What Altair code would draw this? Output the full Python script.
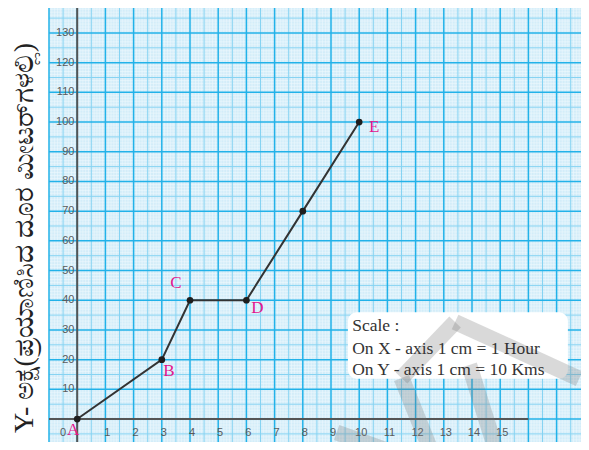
import altair as alt
import numpy as np
import pandas as pd

# ---- data ----
hours = [0, 3, 4, 6, 8, 10]
kms = [0, 20, 40, 40, 70, 100]
label_names = ["A", "B", "C", "D", "E"]
label_x = [0, 3, 4, 6, 10]
label_y = [0, 20, 40, 40, 100]
label_dx = [-4, 7, -14, 11, 15]
label_dy = [11, 11, -17, 8, 5]

x_ticks = list(range(0, 16))
y_ticks = list(range(0, 140, 10))

scale_lines = ["Scale :", "On X - axis 1 cm = 1 Hour", "On Y - axis 1 cm =  10 Kms"]
y_title = "Y- ಅಕ್ಷ(ಪ್ರಯಾಣಿಸಿದ ದೂರ ಮೀಟರ್‌ಗಳಲ್ಲಿ)"

# watermark strokes (segment id, x, y)
wm_seg = [0, 0, 1, 1, 2, 2, 3, 3, 4, 4]
wm_x = [13.4, 11.5, 11.5, 12.6, 13.4, 17.8, 13.9, 14.9, 9.2, 11.4]
wm_y = [32.7, 13.8, 13.8, -12, 32.7, 13.6, 18.2, -12, -4.5, -12]

W, H = 532, 434
XMIN, XMAX = -1.0, -1.0 + W / 28.2
YMAX = 138.4
YMIN = YMAX - H / 2.97

xs = alt.Scale(domain=[XMIN, XMAX], nice=False, zero=False)
ys = alt.Scale(domain=[YMIN, YMAX], nice=False, zero=False)

# grid positions
gx_minor = pd.DataFrame({"x": np.round(np.arange(-1.0, XMAX, 0.1), 2)})
gx_mid = pd.DataFrame({"x": np.arange(-0.5, XMAX, 1.0)})
gx_major = pd.DataFrame({"x": np.arange(-1.0, XMAX, 1.0)})
gy_minor = pd.DataFrame({"y": np.arange(-10, 139, 1)})
gy_mid = pd.DataFrame({"y": np.arange(-5, 139, 10)})
gy_major = pd.DataFrame({"y": np.arange(-10, 139, 10)})

bg = alt.Chart(pd.DataFrame({"a": [0]})).mark_rect(color="#d3edf9").encode(
    x=alt.value(0), x2=alt.value(W), y=alt.value(0), y2=alt.value(H)
)

def vrules(df, color, w):
    return alt.Chart(df).mark_rule(color=color, strokeWidth=w).encode(
        x=alt.X("x:Q", scale=xs, axis=None))

def hrules(df, color, w):
    return alt.Chart(df).mark_rule(color=color, strokeWidth=w, clip=True).encode(
        y=alt.Y("y:Q", scale=ys, axis=None))

grid = [
    vrules(gx_minor, "#eef8fd", 0.6), hrules(gy_minor, "#eef8fd", 0.6),
    vrules(gx_mid, "#86d3f2", 1.0), hrules(gy_mid, "#86d3f2", 1.0),
    vrules(gx_major, "#22b2e9", 1.5), hrules(gy_major, "#22b2e9", 1.5),
]

yaxis_line = alt.Chart(pd.DataFrame({"x": [0]})).mark_rule(color="#555555", strokeWidth=2).encode(
    x=alt.X("x:Q", scale=xs, axis=None))
xaxis_line = alt.Chart(pd.DataFrame({"x": [XMIN], "x2": [16], "y": [0]})).mark_rule(
    color="#555555", strokeWidth=2).encode(
    x=alt.X("x:Q", scale=xs, axis=None), x2="x2:Q", y=alt.Y("y:Q", scale=ys, axis=None))

# tick labels
xt = pd.DataFrame({"t": [str(v) for v in x_ticks],
                   "x": [v + 0.07 if v > 0 else -0.5 for v in x_ticks],
                   "y": [-4.7] * len(x_ticks)})
x_labels = alt.Chart(xt).mark_text(fontSize=11, color="#5a5a5a", font="Liberation Sans").encode(
    x=alt.X("x:Q", scale=xs, axis=None), y=alt.Y("y:Q", scale=ys, axis=None), text="t:N")
yt = pd.DataFrame({"t": [str(v) for v in y_ticks[1:]], "y": y_ticks[1:], "x": [-0.1] * (len(y_ticks) - 1)})
y_labels = alt.Chart(yt).mark_text(fontSize=11, color="#5a5a5a", align="right",
                                   font="Liberation Sans").encode(
    x=alt.X("x:Q", scale=xs, axis=None), y=alt.Y("y:Q", scale=ys, axis=None), text="t:N")

# scale box
box = alt.Chart(pd.DataFrame({"x": [9.6], "x2": [17.4], "y": [36.0], "y2": [13.6]})).mark_rect(
    color="white", cornerRadius=9).encode(
    x=alt.X("x:Q", scale=xs, axis=None), x2="x2:Q",
    y=alt.Y("y:Q", scale=ys, axis=None), y2="y2:Q")
box_text = alt.Chart(pd.DataFrame({"t": scale_lines, "x": [9.75] * 3, "y": [31.3, 23.6, 16.4]})).mark_text(
    align="left", fontSize=17.5, font="Liberation Serif", color="#333333").encode(
    x=alt.X("x:Q", scale=xs, axis=None), y=alt.Y("y:Q", scale=ys, axis=None), text="t:N")

# watermark
wm = alt.Chart(pd.DataFrame({"s": wm_seg, "x": wm_x, "y": wm_y, "o": list(range(len(wm_x)))})).mark_line(
    color="#777777", opacity=0.28, strokeWidth=16, strokeCap="butt", clip=True).encode(
    x=alt.X("x:Q", scale=xs, axis=None), y=alt.Y("y:Q", scale=ys, axis=None),
    detail="s:N", order="o:Q")

# data line and points
df = pd.DataFrame({"h": hours, "k": kms})
line = alt.Chart(df).mark_line(color="#333333", strokeWidth=2).encode(
    x=alt.X("h:Q", scale=xs, axis=None), y=alt.Y("k:Q", scale=ys, axis=None))
pts = alt.Chart(df).mark_circle(color="#1e1e1e", size=45, opacity=1).encode(
    x=alt.X("h:Q", scale=xs, axis=None), y=alt.Y("k:Q", scale=ys, axis=None))

lab_layers = []
for n, lx, ly, dx, dy in zip(label_names, label_x, label_y, label_dx, label_dy):
    lab_layers.append(
        alt.Chart(pd.DataFrame({"t": [n], "x": [lx], "y": [ly]})).mark_text(
            fontSize=17, font="Liberation Serif", color="#e2168c", dx=dx, dy=dy).encode(
            x=alt.X("x:Q", scale=xs, axis=None), y=alt.Y("y:Q", scale=ys, axis=None), text="t:N"))

ytitle = alt.Chart(pd.DataFrame({"t": [y_title]})).mark_text(
    angle=270, fontSize=28, font="Liberation Serif", color="#222222").encode(
    x=alt.value(-24), y=alt.value(230), text="t:N")

chart = alt.layer(
    bg, *grid, yaxis_line, xaxis_line, x_labels, y_labels, box, wm, line, pts,
    *lab_layers, box_text, ytitle
).properties(
    width=W, height=H,
    padding={"left": 41, "top": 0, "right": 0, "bottom": 0},
    autosize=alt.AutoSizeParams(type="none"),
    background="white",
).configure_view(stroke=None)

chart.save("out.html", embed_options={"renderer": "svg", "actions": False})
